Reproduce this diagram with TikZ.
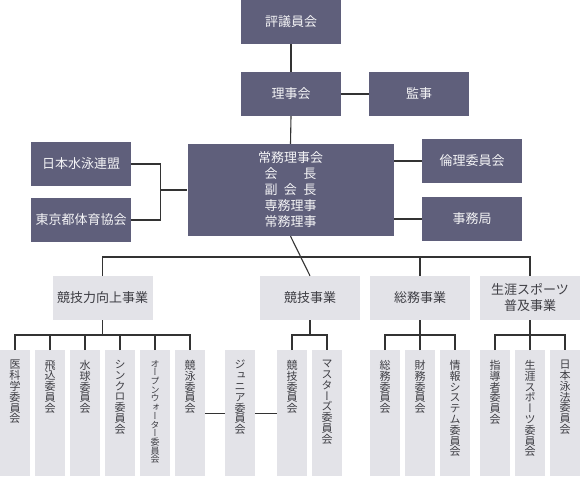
\documentclass[tikz,border=0pt]{standalone}
\usepackage{fontspec}
\usepackage{xcolor}
\usepackage{tikz}
\setmainfont{Noto Sans CJK JP}
\newfontfamily\tatefont[RawFeature=+vert]{Noto Sans CJK JP}
\definecolor{boardfill}{HTML}{5F5F7B}
\definecolor{boardtext}{HTML}{F4F4F6}
\definecolor{bizfill}{HTML}{E3E3E8}
\definecolor{biztext}{HTML}{3E3E44}
\definecolor{linkgray}{HTML}{333333}
% vertical label: one character per line, pinned to the top of the column
\newcommand{\tate}[1]{%
  \parbox[t][106pt][t]{30pt}{\lineskiplimit=-\maxdimen\centering\tatefont #1}}
\tikzset{
  every node/.style={font=\fontsize{13}{16}\selectfont},
  boardbox/.style={
    fill=boardfill,
    text=boardtext,
    minimum width=100pt,
    minimum height=44pt,
    inner sep=0pt,
    align=center
  },
  bizbox/.style={
    fill=bizfill,
    text=biztext,
    minimum width=100pt,
    minimum height=44pt,
    inner sep=0pt,
    align=center
  },
  vcol/.style={
    fill=bizfill,
    text=biztext,
    minimum width=30pt,
    minimum height=126pt,
    inner sep=0pt,
    anchor=north,
    font=\fontsize{11}{10.8}\selectfont
  },
  link/.style={draw=linkgray, line width=1.1pt},
}

\begin{document}
\begin{tikzpicture}[x=1pt, y=-1pt]
  \useasboundingbox (0,0) rectangle (580,476);

  % =====================================================================
  % Board level
  % =====================================================================
  \node[boardbox] (hyogi) at (291, 22) {評議員会};
  \node[boardbox] (riji)  at (291, 94) {理事会};
  \node[boardbox] (kanji) at (419, 94) {監事};

  \node[boardbox] (nihon) at (81, 164) {日本水泳連盟};
  \node[boardbox] (tokyo) at (81, 220) {東京都体育協会};

  \node[boardbox, minimum width=206pt, minimum height=92pt] (joumu)
    at (290.5, 190) {%
    常務理事会\\
    \makebox[4em]{会\hfill 長}\\
    \makebox[4em]{副\hfill 会\hfill 長}\\
    専務理事\\
    常務理事
  };

  \node[boardbox] (rinri) at (472, 161) {倫理委員会};
  \node[boardbox] (jimu)  at (472, 219) {事務局};

  \draw[link] (hyogi.south) -- (riji.north);
  \draw[link] (riji.east) -- (kanji.west);
  \draw[link] (riji.south) -- (joumu.north);

  \coordinate (jL) at ([xshift=-27pt]joumu.west);
  \draw[link] (nihon.east) -| (jL) |- (tokyo.east);
  \draw[link] (jL) -- (joumu.west);
  \draw[link] (rinri.west) -- (rinri.west -| joumu.east);
  \draw[link] (jimu.west) -- (jimu.west -| joumu.east);

  % =====================================================================
  % Business divisions
  % =====================================================================
  \node[bizbox] (kyoka)  at (102.5, 298) {競技力向上事業};
  \node[bizbox] (kyogi)  at (310, 298)   {競技事業};
  \node[bizbox] (somu)   at (420, 298)   {総務事業};
  \node[bizbox] (shogai) at (530, 298)   {生涯スポーツ\\普及事業};

  \coordinate (bus) at (joumu.south |- 0,257);
  \draw[link] (joumu.south) -- (kyogi.north);
  \draw[link] (kyoka.north) |- (bus) -| (shogai.north);
  \draw[link] (somu.north) -- (somu.north |- bus);

  % =====================================================================
  % Committees (vertical text)
  % =====================================================================
  \node[vcol] (ikagaku)  at (15, 350)  {\tate{医\\科\\学\\委\\員\\会}};
  \node[vcol] (tobikomi) at (50, 350)  {\tate{飛\\込\\委\\員\\会}};
  \node[vcol] (suikyu)   at (85, 350)  {\tate{水\\球\\委\\員\\会}};
  \node[vcol] (synchro)  at (120, 350) {\tate{シ\\ン\\ク\\ロ\\委\\員\\会}};
  \node[vcol, font=\fontsize{9}{8.7}\selectfont] (openw) at (155, 350)
    {\tate{オ\\ー\\プ\\ン\\ウ\\ォ\\ー\\タ\\ー\\委\\員\\会}};
  \node[vcol] (kyoei)    at (190, 350) {\tate{競\\泳\\委\\員\\会}};

  \node[vcol] (junior)   at (240, 350) {\tate{ジ\\ュ\\ニ\\ア\\委\\員\\会}};

  \node[vcol] (kyogiI)   at (292, 350) {\tate{競\\技\\委\\員\\会}};
  \node[vcol] (masters)  at (327, 350) {\tate{マ\\ス\\タ\\ー\\ズ\\委\\員\\会}};

  \node[vcol] (somuI)    at (385, 350) {\tate{総\\務\\委\\員\\会}};
  \node[vcol] (zaimu)    at (420, 350) {\tate{財\\務\\委\\員\\会}};
  \node[vcol] (joho)     at (455, 350) {\tate{情\\報\\シ\\ス\\テ\\ム\\委\\員\\会}};

  \node[vcol] (shido)    at (495, 350) {\tate{指\\導\\者\\委\\員\\会}};
  \node[vcol] (shogaiI)  at (530, 350) {\tate{生\\涯\\ス\\ポ\\ー\\ツ\\委\\員\\会}};
  \node[vcol] (nihonI)   at (565, 350) {\tate{日\\本\\泳\\法\\委\\員\\会}};

  % sub-buses
  \coordinate (b1) at (kyoka.south |- 0,335);
  \draw[link] (kyoka.south) -- (b1);
  \draw[link] (ikagaku.north) |- (b1) -| (kyoei.north);
  \draw[link] (tobikomi.north) -- (tobikomi.north |- b1);
  \draw[link] (suikyu.north) -- (suikyu.north |- b1);
  \draw[link] (synchro.north) -- (synchro.north |- b1);
  \draw[link] (openw.north) -- (openw.north |- b1);

  \draw[link] (kyoei.east) -- (junior.west);
  \draw[link] (junior.east) -- (kyogiI.west);

  \coordinate (b2) at (kyogi.south |- 0,335);
  \draw[link] (kyogi.south) -- (b2);
  \draw[link] (kyogiI.north) |- (b2) -| (masters.north);

  \coordinate (b3) at (somu.south |- 0,335);
  \draw[link] (somu.south) -- (b3);
  \draw[link] (somuI.north) |- (b3) -| (joho.north);
  \draw[link] (zaimu.north) -- (b3);

  \coordinate (b4) at (shogai.south |- 0,335);
  \draw[link] (shogai.south) -- (b4);
  \draw[link] (shido.north) |- (b4) -| (nihonI.north);
  \draw[link] (shogaiI.north) -- (b4);

\end{tikzpicture}
\end{document}
